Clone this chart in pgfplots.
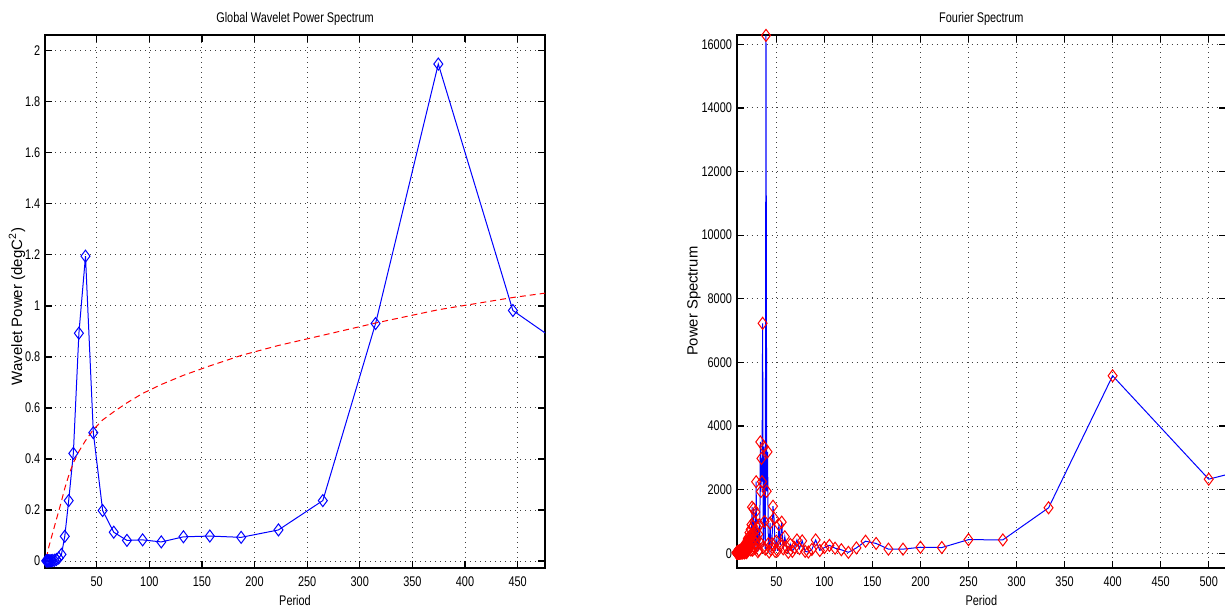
\documentclass[border=0pt]{standalone}
\usepackage{fontspec}
\setmainfont{Liberation Sans}
\newfontfamily\cond[FakeStretch=0.78]{Liberation Sans}
\usepackage{pgfplots}
\pgfplotsset{compat=1.18}
\pgfplotsset{
  mstyle/.style={
    scale only axis,
    anchor=south west,
    clip=true,
    axis line style={line width=0.9pt},
    tick align=inside,
    major tick length=3.5pt,
    every tick/.style={black, line width=0.6pt},
    grid=major,
    major grid style={black!75, line width=0.5pt, dash pattern=on 0.5pt off 2pt},
    /pgf/number format/assume math mode=true,
    /pgf/number format/1000 sep={},
    scaled y ticks=false,
    scaled x ticks=false,
    tick label style={font=\cond\fontsize{7}{8}\selectfont},
    xticklabel style={anchor=north, inner sep=0pt, yshift=-4.4pt},
    yticklabel style={anchor=east, inner sep=0pt, xshift=-2.2pt},
    title style={font=\cond\fontsize{7}{8}\selectfont, at={(axis description cs:0.5,1)}, anchor=south, inner sep=0pt, yshift=-1.5pt},
    xlabel style={font=\cond\fontsize{7}{8}\selectfont, at={(axis description cs:0.5,0)}, anchor=center, yshift=-16.2pt},
  }
}
\begin{document}
\begin{tikzpicture}
\useasboundingbox (0,0) rectangle (612.5pt,305pt);
\begin{axis}[mstyle,
  at={(22.5pt,21.15pt)}, width=250pt, height=266.5pt,
  xmin=0.9, xmax=476, ymin=-0.026, ymax=2.063,
  xtick={50,100,150,200,250,300,350,400,450},
  ytick={0,0.2,0.4,0.6,0.8,1,1.2,1.4,1.6,1.8,2},
  title={Global Wavelet Power Spectrum},
  xlabel={Period},
  ylabel={Wavelet Power (degC\textsuperscript{2})},
  ylabel style={font=\fontsize{7.5}{8}\selectfont, at={(axis description cs:-0.056,0.49)}, rotate=0, anchor=center},
]
\addplot[blue, line width=0.5pt, mark=diamond, mark size=3pt, mark options={solid, blue, line width=0.5pt}] coordinates {
(2.07,0.001) (2.46,0.001) (2.93,0.001) (3.48,0.001) (4.14,0.001) (4.92,0.001)
(5.85,0.001) (6.96,0.001) (8.28,0.002) (9.84,0.003) (11.70,0.006) (13.92,0.012)
(16.55,0.026) (19.69,0.097) (23.41,0.237) (27.84,0.422) (33.11,0.893) (39.37,1.195)
(46.82,0.503) (55.68,0.198) (66.22,0.113) (78.75,0.081) (93.65,0.083) (111.37,0.075)
(132.44,0.095) (157.50,0.098) (187.30,0.093) (222.74,0.122) (264.88,0.237) (315.00,0.931)
(374.60,1.948) (445.48,0.982) (529.77,0.74)
};
\addplot[red, line width=0.5pt, dash pattern=on 3pt off 2pt, no marks] coordinates {
(2.07,0.012) (2.46,0.018) (2.93,0.026) (3.48,0.036) (4.14,0.048) (4.92,0.062)
(5.85,0.075) (6.96,0.092) (8.28,0.112) (9.84,0.135) (11.70,0.163) (13.92,0.195)
(16.55,0.235) (19.69,0.285) (23.41,0.335) (27.84,0.385) (33.11,0.430) (39.37,0.472)
(46.82,0.515) (55.68,0.553) (66.22,0.585) (78.75,0.620) (93.65,0.657) (111.37,0.692)
(132.44,0.728) (157.50,0.765) (187.30,0.806) (222.74,0.845) (264.88,0.885) (315.00,0.933)
(374.60,0.985) (445.48,1.033) (529.77,1.080)
};
\end{axis}
\begin{axis}[mstyle,
  at={(368.35pt,21.15pt)}, width=244.65pt, height=266.5pt,
  xmin=8.75, xmax=518, ymin=-453, ymax=16302,
  xtick={50,100,150,200,250,300,350,400,450,500},
  ytick={0,2000,4000,6000,8000,10000,12000,14000,16000},
  title={Fourier Spectrum},
  xlabel={Period},
  ylabel={Power Spectrum},
  ylabel style={font=\fontsize{7.4}{8}\selectfont, at={(axis description cs:-0.0873,0.5)}, rotate=0, anchor=center},
]
\addplot[blue, line width=0.5pt, mark=diamond, mark size=3pt, mark options={solid, red, line width=0.5pt}] coordinates {
(666.67,3600) (500,2330) (400,5580) (333.33,1430) (285.71,420) (250,430) (222.22,180)
(200,190) (181.82,130) (166.67,130) (153.85,310) (142.86,380) (133.33,170) (125,30)
(117.65,110) (111.11,160) (105.26,250) (100,180) (95.24,90) (90.91,420) (86.96,120)
(83.33,40) (80,60) (76.92,390) (74.07,150) (71.43,420) (68.97,180) (66.67,60)
(64.52,280) (62.5,30) (60.61,190) (58.82,520) (57.14,140) (55.56,980) (54.05,260)
(52.63,900) (51.28,80) (50,380) (48.78,60) (47.62,1100) (46.51,1480) (45.45,300)
(44.44,120) (43.48,950) (42.55,40) (41.67,300) (40.82,3190) (40,1950) (39.22,16280)
(38.46,130) (37.74,1000) (37.04,3350) (36.36,200) (35.71,7230) (35.09,2250) (34.48,2980)
(33.90,1940) (33.33,3500) (32.79,350) (32.26,900) (31.75,100) (31.25,600) (30.77,50)
(30.30,800) (29.85,250) (29.41,450) (28.99,2250) (28.57,300) (28.17,1300) (27.78,150)
(27.40,700) (27.03,1000) (26.67,200) (26.32,1400) (25.97,400) (25.64,850) (25.32,100)
(25.00,600) (24.69,1450) (24.39,300) (24.10,900) (23.81,500) (23.53,100) (23.26,750)
(22.99,350) (22.73,550) (22.47,200) (22.22,450) (21.98,650) (21.74,150) (21.51,400)
(21.28,300) (21.05,500) (20.83,100) (20.62,350) (20.41,250) (20.20,450) (20.00,80)
(19.80,300) (19.61,50) (19.42,200) (19.23,120) (19.05,350) (18.87,20) (18.69,180)
(18.52,90) (18.35,250) (18.18,40) (18.02,150) (17.86,300) (17.70,60) (17.54,200)
(17.39,100) (17.24,30) (17.09,220) (16.95,80) (16.81,150) (16.67,10) (16.53,180)
(16.39,70) (16.26,120) (16.13,40) (16.00,90) (15.87,200) (15.75,30) (15.63,110)
(15.50,60) (15.38,140) (15.27,40) (15.15,100) (15.04,20) (14.93,130) (14.81,60)
(14.71,90) (14.60,10) (14.49,110) (14.39,50) (14.29,80) (14.18,20) (14.08,120)
(13.99,40) (13.89,70) (13.79,100) (13.70,20) (13.61,60) (13.51,90) (13.42,30)
(13.33,80) (13.25,10) (13.16,60) (13.07,100) (12.99,30) (12.90,50) (12.82,80)
(12.74,20) (12.66,60) (12.58,40) (12.50,90) (12.42,10) (12.35,50) (12.27,70)
(12.20,30) (12.12,60) (12.05,20) (11.98,80) (11.90,40) (11.83,10) (11.76,60)
(11.70,30) (11.63,50) (11.56,20) (11.49,70) (11.43,10) (11.36,40) (11.30,60)
(11.24,20) (11.17,50) (11.11,30) (11.05,10) (10.99,60) (10.93,20) (10.87,40)
(10.81,30) (10.75,50) (10.70,10) (10.64,40) (10.58,20) (10.53,60) (10.47,30)
(10.42,10) (10.36,40) (10.31,20) (10.26,50) (10.20,10) (10.15,30) (10.10,40)
(10.05,20) (10.00,50) (9.95,10) (9.90,30) (9.85,20) (9.80,40) (9.76,10)
(9.71,30) (9.66,20) (9.62,40) (9.57,10) (9.52,30) (9.48,20) (9.43,10)
(9.39,30) (9.35,20) (9.30,40) (9.26,10) (9.22,20) (9.17,30) (9.13,10)
(9.09,20) (9.05,30) (9.01,10) (8.97,20) (8.93,10) (8.89,30) (8.85,10)
(8.81,20) (8.77,10) (8.73,20) (8.70,10)
};
\end{axis}
\end{tikzpicture}
\end{document}
